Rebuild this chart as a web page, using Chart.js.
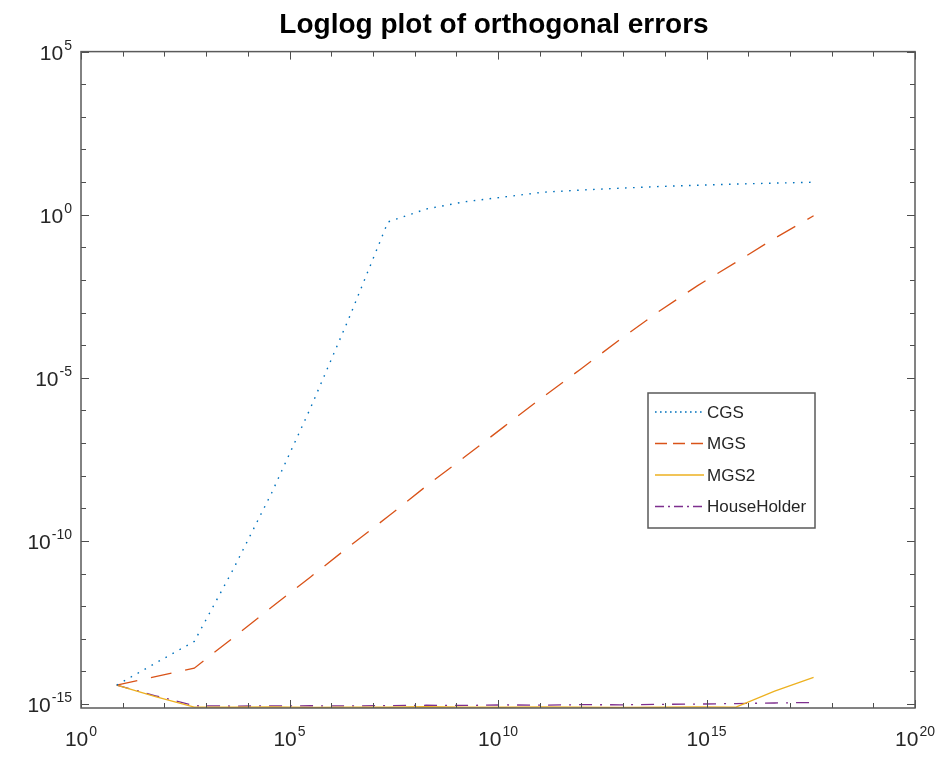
<!DOCTYPE html>
<html>
<head>
<meta charset="utf-8">
<script src="https://cdn.jsdelivr.net/npm/chart.js@4.4.1/dist/chart.umd.min.js"></script>
<style>
  html, body { margin: 0; padding: 0; background: #fff; }
  #wrap { width: 945px; height: 757px; }
</style>
</head>
<body>
<div id="wrap"><canvas id="errChart" width="945" height="757"></canvas></div>
<script>
// x values (condition numbers)
const condNums = [7.2, 61, 520, 4.4e3, 3.7e4, 3.2e5, 2.7e6, 2.3e7, 1.9e8, 1.6e9,
                  1.4e10, 1.2e11, 9.9e11, 8.4e12, 7.1e13, 6.0e14, 5.1e15, 4.3e16, 3.7e17];

const cgsErr = [3.8e-15, 1.8e-14, 8.3e-14, 1.3e-11, 2.9e-9, 1.2e-6, 7.0e-4, 0.6, 1.5, 2.5,
                3.5, 4.9, 5.7, 6.5, 7.3, 8.0, 8.7, 9.3, 9.9];
const mgsErr = [3.8e-15, 6.9e-15, 1.26e-14, 1.07e-13, 9.3e-13, 7.9e-12, 6.8e-11, 5.6e-10, 4.8e-9, 3.8e-8,
                3.2e-7, 2.6e-6, 1.9e-5, 1.5e-4, 1.07e-3, 6.6e-3, 0.035, 0.19, 0.93];
const mgs2Err = [3.8e-15, 1.7e-15, 8.1e-16, 8.0e-16, 8.2e-16, 7.9e-16, 8.1e-16, 8.0e-16, 8.3e-16, 8.1e-16,
                 8.0e-16, 8.2e-16, 8.1e-16, 7.9e-16, 8.0e-16, 8.2e-16, 8.1e-16, 2.5e-15, 6.6e-15];
const hhErr = [3.8e-15, 1.8e-15, 8.9e-16, 8.7e-16, 8.8e-16, 8.9e-16, 8.8e-16, 9.0e-16, 9.2e-16, 9.1e-16,
               9.4e-16, 9.3e-16, 9.6e-16, 9.5e-16, 9.8e-16, 1.0e-15, 1.04e-15, 1.08e-15, 1.12e-15];

const seriesNames = ['CGS', 'MGS', 'MGS2', 'HouseHolder'];

// tick labels (exponents of 10)
const xTickExps = [0, 5, 10, 15, 20];
const yTickExps = [-15, -10, -5, 0, 5];

const FONT = '"Liberation Sans", Arial, sans-serif';

function pts(vals) {
    return vals.map((v, i) => ({ x: condNums[i], y: v }));
}

// matlab style box, inward ticks, 10^n labels, legend
const matlabAxes = {
    id: 'matlabAxes',
    afterDraw(chart) {
        const { ctx, chartArea: a, scales } = chart;
        const xs = scales.x, ys = scales.y;
        ctx.save();

        // ticks on every decade, all four sides
        ctx.strokeStyle = '#4d4d4d';
        ctx.lineWidth = 1;
        for (let e = 0; e <= 20; e++) {
            const px = Math.round(xs.getPixelForValue(Math.pow(10, e))) + 0.5;
            const len = (e % 5 === 0) ? 8 : 5;
            ctx.beginPath();
            ctx.moveTo(px, a.bottom); ctx.lineTo(px, a.bottom - len);
            ctx.moveTo(px, a.top); ctx.lineTo(px, a.top + len);
            ctx.stroke();
        }
        for (let e = -15; e <= 5; e++) {
            const py = Math.round(ys.getPixelForValue(Math.pow(10, e))) + 0.5;
            const len = (e % 5 === 0) ? 8 : 5;
            ctx.beginPath();
            ctx.moveTo(a.left, py); ctx.lineTo(a.left + len, py);
            ctx.moveTo(a.right, py); ctx.lineTo(a.right - len, py);
            ctx.stroke();
        }

        // box
        ctx.strokeStyle = '#5a5a5a';
        ctx.lineWidth = 1.5;
        ctx.strokeRect(a.left, a.top, a.right - a.left, a.bottom - a.top);

        // tick labels
        ctx.fillStyle = '#262626';
        ctx.textBaseline = 'alphabetic';
        const baseFont = '21px ' + FONT;
        const expFont = '14px ' + FONT;
        function label10(exp) {
            ctx.font = baseFont;
            const w1 = ctx.measureText('10').width;
            ctx.font = expFont;
            const w2 = ctx.measureText(String(exp)).width;
            return { w1, w2 };
        }
        function drawLabel(exp, left, base) {
            const m = label10(exp);
            ctx.font = baseFont;
            ctx.textAlign = 'left';
            ctx.fillText('10', left, base);
            ctx.font = expFont;
            ctx.fillText(String(exp), left + m.w1 + 1, base - 10);
            return m;
        }
        xTickExps.forEach(e => {
            const px = xs.getPixelForValue(Math.pow(10, e));
            const m = label10(e);
            drawLabel(e, px - (m.w1 + m.w2 + 1) / 2, a.bottom + 38);
        });
        yTickExps.forEach(e => {
            const py = ys.getPixelForValue(Math.pow(10, e));
            const m = label10(e);
            drawLabel(e, a.left - 9 - (m.w1 + m.w2 + 1), py + 8);
        });

        // legend
        const lx = 648, ly = 393, lw = 167, lh = 135;
        ctx.fillStyle = '#fff';
        ctx.fillRect(lx, ly, lw, lh);
        ctx.strokeStyle = '#5a5a5a';
        ctx.lineWidth = 1.5;
        ctx.strokeRect(lx, ly, lw, lh);
        ctx.font = '17px ' + FONT;
        ctx.textAlign = 'left';
        ctx.textBaseline = 'middle';
        chart.data.datasets.forEach((ds, i) => {
            const ry = ly + 19 + i * 31.5;
            ctx.strokeStyle = ds.borderColor;
            ctx.lineWidth = ds.borderWidth;
            ctx.setLineDash(ds.legendDash || ds.borderDash || []);
            ctx.beginPath();
            ctx.moveTo(lx + 7, ry);
            ctx.lineTo(lx + 56, ry);
            ctx.stroke();
            ctx.setLineDash([]);
            ctx.fillStyle = '#262626';
            ctx.fillText(ds.label, lx + 59, ry + 1);
        });
        ctx.restore();
    }
};

new Chart(document.getElementById('errChart'), {
    type: 'line',
    data: {
        datasets: [
            { label: seriesNames[0], data: pts(cgsErr), borderColor: '#0072BD', borderWidth: 1.4,
              borderDash: [1.6, 6.4], legendDash: [1.6, 3.4] },
            { label: seriesNames[1], data: pts(mgsErr), borderColor: '#D95319', borderWidth: 1.3,
              borderDash: [21, 14], legendDash: [12, 6] },
            { label: seriesNames[2], data: pts(mgs2Err), borderColor: '#EDB120', borderWidth: 1.3,
              borderDash: [] },
            { label: seriesNames[3], data: pts(hhErr), borderColor: '#7E2F8E', borderWidth: 1.3,
              borderDash: [13, 8, 2, 8], legendDash: [9, 4, 2, 4] }
        ]
    },
    options: {
        responsive: false,
        animation: false,
        devicePixelRatio: 1,
        elements: { point: { radius: 0 }, line: { tension: 0 } },
        layout: { padding: { left: 73, right: 30, top: 0, bottom: 41 } },
        plugins: {
            legend: { display: false },
            tooltip: { enabled: false },
            title: {
                display: true,
                text: 'Loglog plot of orthogonal errors',
                color: '#000',
                font: { family: FONT, size: 28, weight: 'bold' },
                padding: { top: 8, bottom: 10 }
            }
        },
        scales: {
            x: {
                type: 'logarithmic', min: 1, max: 1e20,
                grid: { display: false }, border: { display: false },
                ticks: { display: false }
            },
            y: {
                type: 'logarithmic', min: Math.pow(10, -15.12), max: 1e5,
                grid: { display: false }, border: { display: false },
                ticks: { display: false }
            }
        }
    },
    plugins: [matlabAxes]
});
</script>
</body>
</html>
